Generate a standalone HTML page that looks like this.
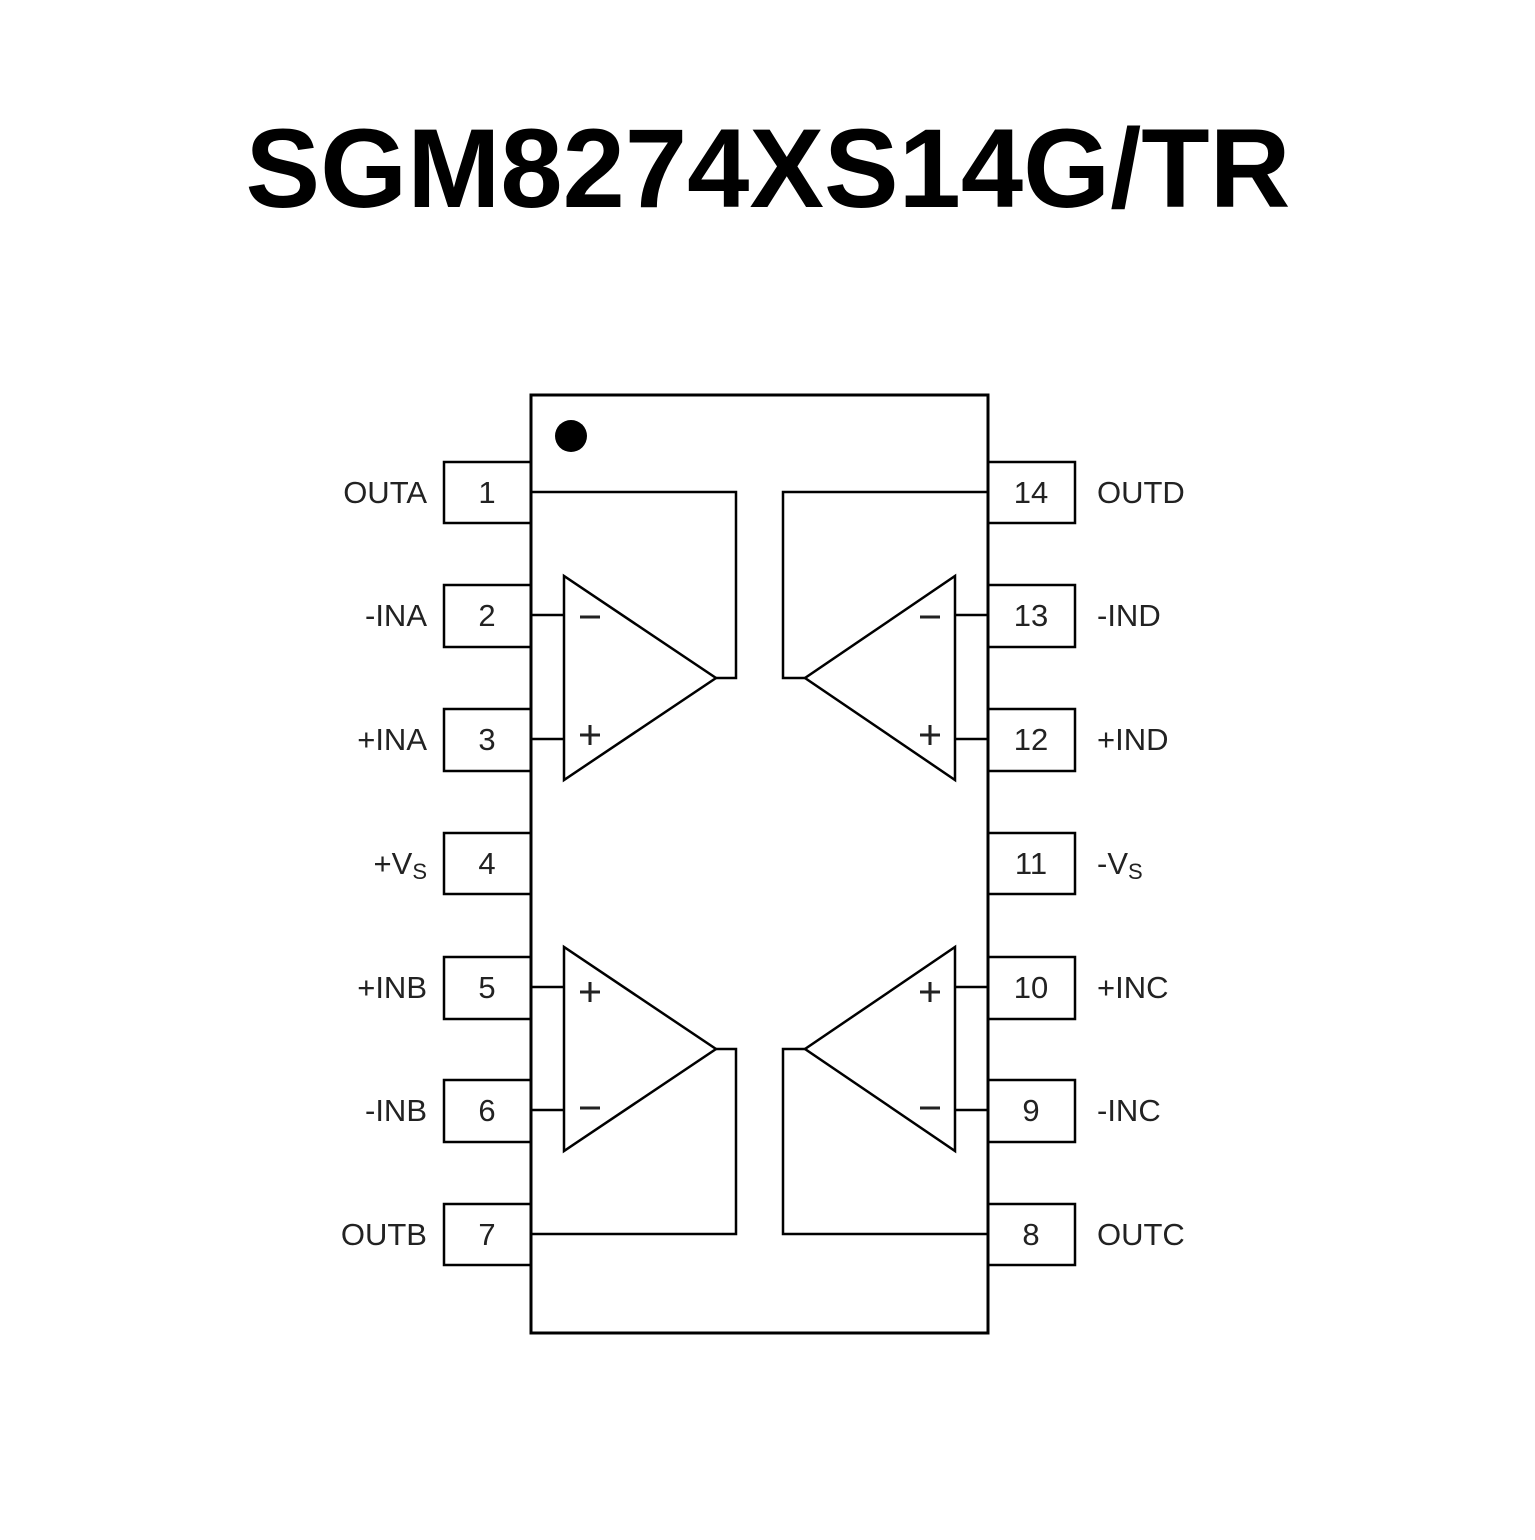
<!DOCTYPE html>
<html><head><style>html,body{margin:0;padding:0;background:#fff}</style></head>
<body>
<svg width="1535" height="1535" viewBox="0 0 1535 1535" xmlns="http://www.w3.org/2000/svg">
<rect width="1535" height="1535" fill="#fff"/>
<text x="768" y="207" text-anchor="middle" font-family="Liberation Sans, sans-serif" font-weight="bold" font-size="112" fill="#000" textLength="1045" lengthAdjust="spacingAndGlyphs">SGM8274XS14G/TR</text>
<g stroke="#000" fill="none" stroke-width="2.5">
<rect x="531" y="395" width="457" height="938" stroke-width="3"/>
<rect x="444" y="462" width="87" height="61"/>
<rect x="444" y="585" width="87" height="62"/>
<rect x="444" y="709" width="87" height="62"/>
<rect x="444" y="833" width="87" height="61"/>
<rect x="444" y="957" width="87" height="62"/>
<rect x="444" y="1080" width="87" height="62"/>
<rect x="444" y="1204" width="87" height="61"/>
<rect x="988" y="462" width="87" height="61"/>
<rect x="988" y="585" width="87" height="62"/>
<rect x="988" y="709" width="87" height="62"/>
<rect x="988" y="833" width="87" height="61"/>
<rect x="988" y="957" width="87" height="62"/>
<rect x="988" y="1080" width="87" height="62"/>
<rect x="988" y="1204" width="87" height="61"/>
<polygon points="564,576 564,780 716,678"/>
<line x1="531" y1="615" x2="564" y2="615"/><line x1="531" y1="739" x2="564" y2="739"/>
<polyline points="716,678 736,678 736,492 531,492"/>
<polygon points="955,576 955,780 805,678"/>
<line x1="955" y1="615" x2="988" y2="615"/><line x1="955" y1="739" x2="988" y2="739"/>
<polyline points="805,678 783,678 783,492 988,492"/>
<polygon points="564,947 564,1151 716,1049"/>
<line x1="531" y1="987" x2="564" y2="987"/><line x1="531" y1="1110" x2="564" y2="1110"/>
<polyline points="716,1049 736,1049 736,1234 531,1234"/>
<polygon points="955,947 955,1151 805,1049"/>
<line x1="955" y1="987" x2="988" y2="987"/><line x1="955" y1="1110" x2="988" y2="1110"/>
<polyline points="805,1049 783,1049 783,1234 988,1234"/>
</g>
<g stroke="#222" stroke-width="3">
<line x1="580" y1="617" x2="600" y2="617"/><line x1="920" y1="617" x2="940" y2="617"/>
<line x1="580" y1="1108" x2="600" y2="1108"/><line x1="920" y1="1108" x2="940" y2="1108"/>
<line x1="580" y1="735" x2="600" y2="735"/><line x1="590" y1="725" x2="590" y2="745"/>
<line x1="920" y1="735" x2="940" y2="735"/><line x1="930" y1="725" x2="930" y2="745"/>
<line x1="580" y1="992" x2="600" y2="992"/><line x1="590" y1="982" x2="590" y2="1002"/>
<line x1="920" y1="992" x2="940" y2="992"/><line x1="930" y1="982" x2="930" y2="1002"/>
</g>
<circle cx="571" cy="436" r="16" fill="#000"/>
<g font-family="Liberation Sans, sans-serif" font-size="31" fill="#222">
<g text-anchor="middle">
<text x="487" y="503">1</text><text x="487" y="626">2</text><text x="487" y="750">3</text><text x="487" y="874">4</text><text x="487" y="998">5</text><text x="487" y="1121">6</text><text x="487" y="1245">7</text>
<text x="1031" y="503">14</text><text x="1031" y="626">13</text><text x="1031" y="750">12</text><text x="1031" y="874">11</text><text x="1031" y="998">10</text><text x="1031" y="1121">9</text><text x="1031" y="1245">8</text>
</g>
<g text-anchor="end">
<text x="427" y="503">OUTA</text><text x="427" y="626">-INA</text><text x="427" y="750">+INA</text>
<text x="427" y="874">+V<tspan font-size="22" dy="5">S</tspan></text>
<text x="427" y="998">+INB</text><text x="427" y="1121">-INB</text><text x="427" y="1245">OUTB</text>
</g>
<g>
<text x="1097" y="503">OUTD</text><text x="1097" y="626">-IND</text><text x="1097" y="750">+IND</text>
<text x="1097" y="874">-V<tspan font-size="22" dy="5">S</tspan></text>
<text x="1097" y="998">+INC</text><text x="1097" y="1121">-INC</text><text x="1097" y="1245">OUTC</text>
</g>
</g>
</svg>
</body></html>
